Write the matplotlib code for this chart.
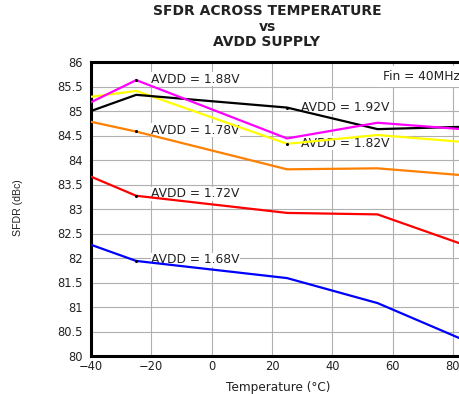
import matplotlib
matplotlib.use("Agg")
import matplotlib.pyplot as plt

plt.rcParams["font.family"] = ["DejaVu Sans"]

# data
temp = [-40, -25, 25, 55, 85]
sfdr_188 = [85.18, 85.63, 84.44, 84.76, 84.62]
sfdr_192 = [85.00, 85.33, 85.07, 84.63, 84.68]
sfdr_182 = [85.29, 85.41, 84.33, 84.51, 84.36]
sfdr_178 = [84.78, 84.58, 83.81, 83.83, 83.68]
sfdr_172 = [83.66, 83.27, 82.92, 82.89, 82.24]
sfdr_168 = [82.27, 81.94, 81.59, 81.08, 80.29]

series = [
    (sfdr_168, "#0000FF"),
    (sfdr_172, "#FF0000"),
    (sfdr_178, "#FF8000"),
    (sfdr_182, "#FFFF00"),
    (sfdr_192, "#000000"),
    (sfdr_188, "#FF00FF"),
]

labels = ["AVDD = 1.88V", "AVDD = 1.92V", "AVDD = 1.78V", "AVDD = 1.82V", "AVDD = 1.72V", "AVDD = 1.68V"]
label_x = [-20, 29.6, -20, 29.6, -20, -20]
label_y = [85.65, 85.08, 84.61, 84.34, 83.31, 81.96]
dot_x = [-25, 25, -25, 25, -25, -25]
dot_y = [85.63, 85.07, 84.59, 84.33, 83.27, 81.94]

FS = 8.3
TXT = "#222222"

fig = plt.figure(figsize=(4.6, 3.94), dpi=100)
ax = fig.add_axes([91 / 460, 38 / 394, 377 / 460, 294 / 394])

for vals, col in series:
    ax.plot(temp, vals, color=col, linewidth=1.6, zorder=3)

for lab, lx, ly in zip(labels, label_x, label_y):
    ax.text(lx, ly, lab, fontsize=8.8, va="center", ha="left", color=TXT,
            bbox=dict(facecolor="white", edgecolor="none", pad=0.3), zorder=2)
ax.scatter(dot_x, dot_y, s=1.5, color="black", zorder=4)

ax.text(56.8, 85.71, "Fin = 40MHz", fontsize=8.8, va="center", ha="left", color=TXT,
        bbox=dict(facecolor="white", edgecolor="none", pad=3), zorder=2)

ax.set_xlim(-40, 85)
ax.set_ylim(80, 86)
ax.set_xticks([-40, -20, 0, 20, 40, 60, 80])
ax.set_yticks([80, 80.5, 81, 81.5, 82, 82.5, 83, 83.5, 84, 84.5, 85, 85.5, 86])
ax.set_yticklabels(["80", "80.5", "81", "81.5", "82", "82.5", "83", "83.5", "84", "84.5", "85", "85.5", "86"])
ax.tick_params(length=0, labelsize=FS, labelcolor=TXT)
ax.tick_params(axis="y", pad=6)
ax.tick_params(axis="x", pad=3)
ax.grid(True, color="#b0b0b0", linewidth=0.8, zorder=0)
ax.set_axisbelow(True)
for side in ["left", "bottom", "top"]:
    ax.spines[side].set_linewidth(2.2)
    ax.spines[side].set_color("black")
ax.spines["right"].set_visible(False)

fig.text(278 / 460, 1 - 387 / 394, "Temperature (°C)", fontsize=8.7, ha="center", va="center", color=TXT)
fig.text(18 / 460, 1 - 208 / 394, "SFDR (dBc)", fontsize=7.6, family="Liberation Sans",
         ha="center", va="center", rotation=90, color=TXT)

for txt, yy in zip(["SFDR ACROSS TEMPERATURE", "vs", "AVDD SUPPLY"], [11, 27, 42]):
    fig.text(267 / 460, 1 - yy / 394, txt, fontsize=10, fontweight="bold",
             ha="center", va="center", color=TXT)

fig.savefig("out.png", dpi=100)
